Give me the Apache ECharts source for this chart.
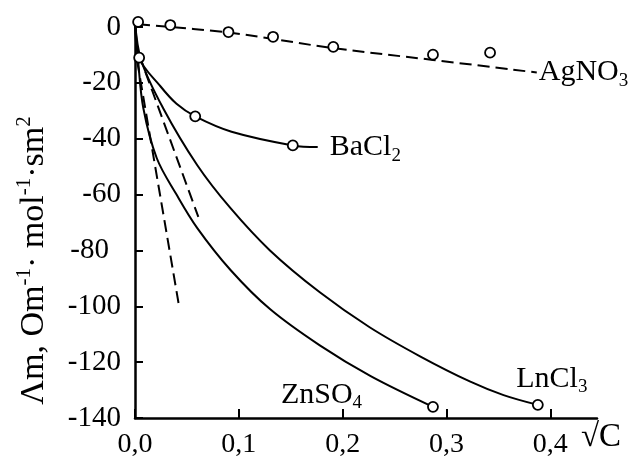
<!DOCTYPE html>
<html><head><meta charset="utf-8">
<script src="https://cdn.jsdelivr.net/npm/echarts@6/dist/echarts.min.js"></script>
<style>html,body{margin:0;padding:0;background:#fff}#c{width:631px;height:459px}</style>
</head><body><div id="c"></div>
<script>
// ---- data ----
const xTickValues = [0, 0.1, 0.2, 0.3, 0.4];
const yTickValues = [0, -20, -40, -60, -80, -100, -120, -140];

// AgNO3: dashed trend line + measured circles
const agLineX = [0.003, 0.09, 0.19, 0.287, 0.387];
const agLineY = [1, -2, -7.5, -11.8, -16.3];
const agPtsX = [0.003, 0.034, 0.090, 0.133, 0.191, 0.287, 0.342];
const agPtsY = [1.8, 0.7, -1.8, -3.5, -7.1, -9.9, -9.2];

// BaCl2
const baLineX = [0, 0.004, 0.024, 0.040, 0.058, 0.093, 0.152, 0.176];
const baLineY = [2, -11, -21, -27.5, -32, -37.5, -42.4, -43];
const baPtsX = [0.004, 0.058, 0.152];
const baPtsY = [-11, -32, -42.4];

// ZnSO4
const znLineX = [0, 0.003, 0.008, 0.021, 0.040, 0.060, 0.092, 0.130, 0.178, 0.227, 0.287];
const znLineY = [2, -12, -29, -47, -60, -72, -87, -101, -114, -125, -136];
const znPtsX = [0.287];
const znPtsY = [-136];

// LnCl3
const lnLineX = [0, 0.006, 0.027, 0.060, 0.0916, 0.130, 0.178, 0.226, 0.275, 0.323, 0.355, 0.388];
const lnLineY = [2, -12, -29, -49.5, -64.7, -80, -95, -107.5, -118, -127, -131.8, -135.3];
const lnPtsX = [0.388];
const lnPtsY = [-135.3];

// dashed limiting tangents
const tan1X = [0.002, 0.042];
const tan1Y = [-12, -99];
const tan2X = [0.004, 0.061];
const tan2Y = [-10, -68];

// ---- build ----
const zip = (xs, ys) => xs.map((x, i) => [x, ys[i]]);
const FF = "'Liberation Serif','Times New Roman',serif";
const richSub = {
  n: {fontFamily: FF, fontSize: 30, color: '#000', lineHeight: 36},
  s: {fontFamily: FF, fontSize: 19, color: '#000', lineHeight: 20, verticalAlign: 'bottom'}
};
const solid = {color: '#000', width: 2};
const dashed = {color: '#000', width: 2, type: [12, 6]};
const circ = {color: '#fff', borderColor: '#000', borderWidth: 1.8, opacity: 1};

function lineSeries(xs, ys, style, extra) {
  return Object.assign({
    type: 'line', data: zip(xs, ys), showSymbol: false, symbol: 'none',
    smooth: 0.35, clip: false, lineStyle: style,
    silent: true, z: 2
  }, extra || {});
}
function ptSeries(xs, ys, extra) {
  return Object.assign({
    type: 'scatter', data: zip(xs, ys), symbol: 'circle', symbolSize: 10,
    itemStyle: circ, clip: false, silent: true, z: 5
  }, extra || {});
}

const chart = echarts.init(document.getElementById('c'), null, {renderer: 'canvas'});
chart.setOption({
  backgroundColor: '#fff',
  animation: false,
  grid: {left: 135, right: 34, top: 27, bottom: 36},
  xAxis: {
    type: 'value', min: 0, max: 0.445, interval: 0.1,
    axisLine: {onZero: false, lineStyle: {color: '#000', width: 2.5}},
    axisTick: {show: true, inside: true, length: 9, lineStyle: {color: '#000', width: 2}},
    splitLine: {show: false},
    axisLabel: {
      color: '#000', fontFamily: FF, fontSize: 28, margin: 13,
      showMaxLabel: false,
      formatter: v => {
        const r = Math.round(v * 10);
        if (Math.abs(v * 10 - r) > 1e-6 || xTickValues.indexOf(r / 10) < 0) return '';
        return (r / 10).toFixed(1).replace('.', ',');
      }
    },
    name: '√C', nameLocation: 'end', nameGap: -16,
    nameTextStyle: {color: '#000', fontFamily: FF, fontSize: 33, verticalAlign: 'top', padding: [3, 0, 0, 0]}
  },
  yAxis: {
    type: 'value', min: -140, max: 0, interval: 20,
    axisLine: {onZero: false, lineStyle: {color: '#000', width: 2.5}},
    axisTick: {show: true, inside: true, length: 8, lineStyle: {color: '#000', width: 2}},
    splitLine: {show: false},
    axisLabel: {
      color: '#000', fontFamily: FF, fontSize: 29, margin: 14,
      formatter: v => (yTickValues.indexOf(v) < 0 ? '' : (v === -80 ? '{p|-80}' : String(v))),
      rich: {p: {fontFamily: FF, fontSize: 29, color: '#000', padding: [0, 12, 0, 0]}}
    },
    name: '{n|Λm, Om}{u|-1}{n|· mol}{u|-1}{n|·sm}{u|2}',
    nameLocation: 'middle', nameRotate: 90, nameGap: 81,
    nameTextStyle: {
      padding: [0, 76, 0, 0],
      rich: {
        n: {fontFamily: FF, fontSize: 34, color: '#000', lineHeight: 40},
        u: {fontFamily: FF, fontSize: 21, color: '#000', lineHeight: 21, verticalAlign: 'top'}
      }
    }
  },
  series: [
    lineSeries(agLineX, agLineY, dashed, {
      endLabel: {show: true, distance: 2, formatter: '{n|AgNO}{s|3}', rich: richSub}
    }),
    ptSeries(agPtsX, agPtsY),
    lineSeries(baLineX, baLineY, solid, {
      endLabel: {show: true, distance: 12, formatter: '{n|BaCl}{s|2}', rich: richSub}
    }),
    ptSeries(baPtsX, baPtsY),
    lineSeries(znLineX, znLineY, solid),
    ptSeries(znPtsX, znPtsY, {
      label: {show: true, position: 'left', distance: 65, offset: [0, -12], formatter: '{n|ZnSO}{s|4}', rich: richSub}
    }),
    lineSeries(lnLineX, lnLineY, solid),
    ptSeries(lnPtsX, lnPtsY, {
      label: {show: true, position: 'top', distance: 2, offset: [14, 0], formatter: '{n|LnCl}{s|3}', rich: richSub}
    }),
    lineSeries(tan1X, tan1Y, dashed, {smooth: false}),
    lineSeries(tan2X, tan2Y, dashed, {smooth: false})
  ]
});
</script>
</body></html>
